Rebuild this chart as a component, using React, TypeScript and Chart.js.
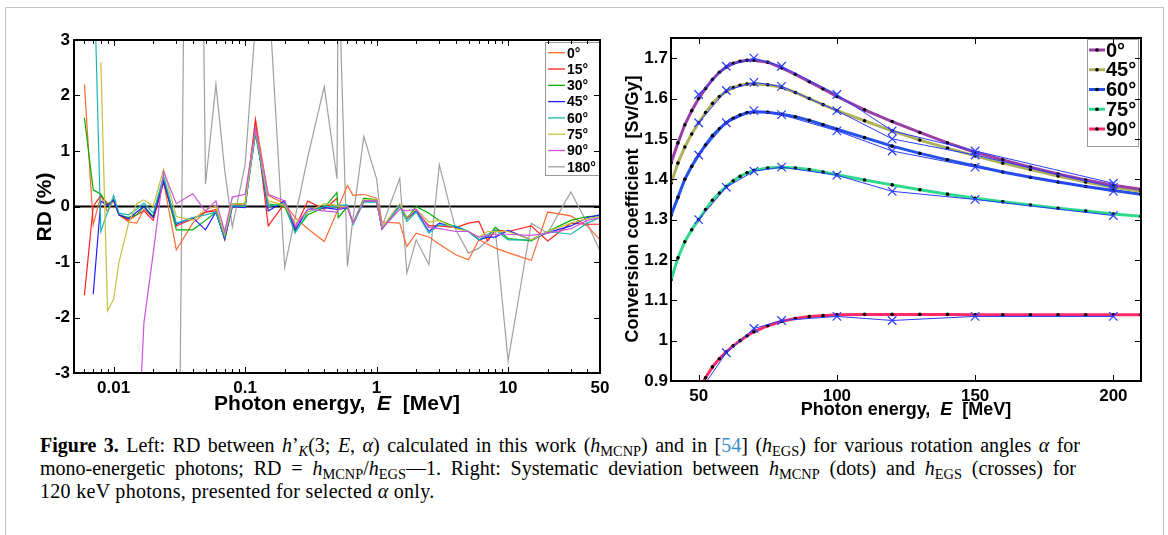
import React, { useEffect, useRef, useState } from "react";
import { Chart, registerables } from "chart.js";
Chart.register(...registerables);

const SANS = '"Liberation Sans", Arial, Helvetica, sans-serif';

// ---------------- Left chart: RD (%) vs photon energy ----------------
const rdEnergies = [
  0.006, 0.007, 0.008, 0.009, 0.01, 0.011, 0.013, 0.015, 0.017, 0.02,
  0.024, 0.03, 0.04, 0.05, 0.06, 0.07, 0.08, 0.1, 0.12, 0.15,
  0.2, 0.24, 0.3, 0.4, 0.5, 0.511, 0.6, 0.662, 0.8, 1,
  1.1, 1.5, 1.7, 2, 2.5, 3, 4, 5, 6, 7,
  8, 10, 15, 20, 30, 40, 50,
];
const rd0 = [
  2.2, -0.33, 0.2, -0.1, 0.12, -0.15, -0.28, -0.3, -0.05, -0.2,
  0.45, -0.78, -0.3, -0.1, -0.05, -0.58, 0.02, 0.05, 1.57, 0.2,
  0.05, -0.2, -0.4, -0.63, -0.1, -0.02, 0.38, 0.2, 0.22, 0.15,
  -0.28, -0.3, -0.72, -0.48, -0.55, -0.68, -0.87, -0.96, -0.6, -0.68,
  -0.75, -0.83, -0.97, -0.1, -0.17, -0.35, -0.6,
];
const rd15 = [
  -1.6, 0.0, 0.2, 0.05, 0.1, -0.15, -0.25, -0.15, -0.08, -0.25,
  0.43, -0.35, -0.22, -0.1, -0.08, -0.6, 0.02, 0.0, 1.55, -0.35,
  0.06, -0.38, 0.1, -0.05, 0.15, -0.05, 0.0, -0.3, 0.1, 0.1,
  -0.4, 0.02, -0.22, -0.08, -0.35, -0.35, -0.38, -0.3, -0.27, -0.62,
  -0.42, -0.45, -0.35, -0.62, -0.3, -0.32, -0.32,
];
const rd30 = [
  1.6, 0.3, 0.22, 0.02, 0.12, -0.15, -0.2, -0.15, 0.0, -0.18,
  0.5, -0.42, -0.42, -0.25, -0.1, -0.58, 0.05, 0.05, 1.3, 0.05,
  0.0, -0.45, -0.15, -0.02, 0.25, -0.2, 0.0, -0.3, 0.15, 0.12,
  -0.4, 0.02, -0.22, 0.0, -0.12, -0.25, -0.37, -0.45, -0.6, -0.55,
  -0.37, -0.58, -0.62, -0.45, -0.25, -0.18, -0.17,
];
const rd45 = [
  null, -1.58, 0.1, 0.02, 0.12, -0.15, -0.22, -0.1, 0.0, -0.2,
  0.45, -0.32, -0.2, -0.42, -0.1, -0.58, 0.0, -0.02, 1.4, -0.08,
  0.1, -0.42, -0.05, -0.02, -0.05, -0.05, -0.02, -0.3, 0.1, 0.1,
  -0.4, 0.02, -0.2, -0.08, -0.45, -0.3, -0.38, -0.45, -0.6, -0.55,
  -0.55, -0.43, -0.6, -0.47, -0.35, -0.2, -0.15,
];
const rd60 = [
  null, 4.8, -0.45, -0.1, 0.2, -0.12, -0.15, -0.05, 0.06, -0.12,
  0.55, -0.3, -0.2, -0.15, -0.1, -0.55, 0.02, 0.0, 1.35, 0.0,
  0.05, -0.48, -0.1, 0.0, 0.0, 0.02, 0.03, -0.33, 0.08, 0.08,
  -0.38, 0.0, -0.27, -0.1, -0.48, -0.33, -0.35, -0.45, -0.6, -0.5,
  -0.42, -0.6, -0.6, -0.45, -0.5, -0.3, -0.2,
];
const rd75 = [
  null, null, 2.6, -1.88, -1.67, -1.0, -0.3, 0.05, 0.12, 0.0,
  0.67, -0.18, -0.25, -0.05, 0.0, -0.5, 0.05, 0.05, 1.4, 0.1,
  0.02, -0.3, -0.1, 0.05, 0.02, 0.0, 0.0, -0.3, 0.12, 0.12,
  -0.38, 0.05, -0.2, -0.05, -0.28, -0.25, -0.4, -0.45, -0.55, -0.45,
  -0.45, -0.45, -0.6, -0.45, -0.3, -0.22, -0.18,
];
const rd90 = [
  null, null, null, null, null, null, null, -4.9, -2.1, -0.85,
  0.63, 0.05, 0.23, -0.09, 0.1, -0.45, 0.17, 0.22, 1.4, 0.22,
  0.1, -0.35, -0.05, -0.08, -0.1, -0.05, 0.0, -0.3, 0.1, 0.1,
  -0.4, -0.05, -0.08, -0.05, -0.38, -0.4, -0.45, -0.45, -0.55, -0.52,
  -0.5, -0.5, -0.52, -0.48, -0.4, -0.25, -0.2,
];
const rd180 = [
  null, null, null, null, null, null, null, null, null, null,
  null, -10, 20, 0.4, 2.2, 0.65, -0.37, 0.75, 3.3, 4.0,
  -1.1, -0.2, 0.9, 2.16, 0.5, 4.5, -1.08, -0.2, 1.26, 0.5,
  -0.36, 0.51, -1.2, -0.6, -1.05, 0.75, -0.42, -0.84, -0.75, -0.6,
  -0.42, -2.78, -0.3, -0.48, 0.26, -0.3, -0.8,
];
const rdNames = ["0°", "15°", "30°", "45°", "60°", "75°", "90°", "180°"];
const rdColors = ["#ff6a33", "#ff1f1f", "#00b000", "#1f1fff", "#1fb5b5", "#c6c03c", "#cc55dd", "#a0a0a0"];
const rdTickValues = [0.01, 0.1, 1, 10, 50];
const rdTickLabels = ["0.01", "0.1", "1", "10", "50"];
const rdMinorTicks = [
  0.006, 0.007, 0.008, 0.009,
  0.02, 0.03, 0.04, 0.05, 0.06, 0.07, 0.08, 0.09,
  0.2, 0.3, 0.4, 0.5, 0.6, 0.7, 0.8, 0.9,
  2, 3, 4, 5, 6, 7, 8, 9,
  20, 30, 40,
];
const rdYTicks = [-3, -2, -1, 0, 1, 2, 3];

// ---------------- Right chart: conversion coefficient ----------------
const ccEnergies = [
  40, 42.5, 45, 47.5, 50, 52.5, 55, 57.5, 60, 62.5, 65, 67.5, 70,
  75, 80, 85, 90, 95, 100,
  110, 120, 130, 140, 150, 160, 170, 180, 190, 200, 210,
];
const cc0 = [
  1.44, 1.49, 1.535, 1.57, 1.6, 1.625, 1.647, 1.665, 1.678, 1.687, 1.692, 1.695, 1.695,
  1.69, 1.676, 1.66, 1.642, 1.624, 1.605,
  1.572, 1.543, 1.516, 1.49, 1.467, 1.448, 1.43, 1.413, 1.398, 1.385, 1.375,
];
const cc45 = [
  1.39, 1.44, 1.48, 1.512, 1.54, 1.565, 1.588, 1.605, 1.618, 1.627, 1.633, 1.636, 1.636,
  1.634, 1.628, 1.615, 1.6, 1.585, 1.57,
  1.545, 1.52, 1.497, 1.477, 1.458, 1.44, 1.424, 1.408, 1.393, 1.38, 1.37,
];
const cc60 = [
  1.31, 1.355, 1.4, 1.432, 1.46, 1.485, 1.508, 1.525, 1.54, 1.551, 1.559, 1.565, 1.567,
  1.566, 1.561, 1.555, 1.546, 1.535, 1.524,
  1.503, 1.482, 1.464, 1.448, 1.433, 1.418, 1.405, 1.393, 1.382, 1.372, 1.363,
];
const cc75 = [
  1.15, 1.205, 1.245, 1.275, 1.3, 1.325, 1.348, 1.366, 1.382, 1.396, 1.407, 1.416, 1.422,
  1.428, 1.43, 1.428, 1.424, 1.418, 1.411,
  1.398, 1.386, 1.374, 1.363, 1.353, 1.344, 1.336, 1.328, 1.321, 1.314, 1.308,
];
const cc90 = [
  0.75, 0.79, 0.82, 0.85, 0.878, 0.908, 0.935, 0.955, 0.972, 0.987, 1.0, 1.012, 1.022,
  1.037, 1.048, 1.055, 1.06, 1.062, 1.064,
  1.065, 1.065, 1.065, 1.065, 1.064, 1.064, 1.064, 1.064, 1.064, 1.064, 1.064,
];
const egsEnergies = [50, 60, 70, 80, 100, 120, 150, 200];
const egs0 = [1.61, 1.68, 1.7, 1.68, 1.61, 1.52, 1.47, 1.39];
const egs45 = [1.54, 1.62, 1.64, 1.63, 1.57, 1.5, 1.46, 1.38];
const egs60 = [1.46, 1.54, 1.57, 1.56, 1.52, 1.47, 1.43, 1.37];
const egs75 = [1.3, 1.38, 1.42, 1.43, 1.41, 1.37, 1.35, 1.31];
const egs90 = [0.87, 0.97, 1.03, 1.05, 1.06, 1.05, 1.06, 1.06];
const ccNames = ["0°", "45°", "60°", "75°", "90°"];
const ccColors = ["#9b3fa6", "#aeb05c", "#2452e6", "#2fd98c", "#ff2a6a"];
const egsColor = "#2a3cff";
const ccXTicks = [50, 100, 150, 200];
const ccYTicks = [0.9, 1.0, 1.1, 1.2, 1.3, 1.4, 1.5, 1.6, 1.7];
const ccYLabels = ["0.9", "1", "1.1", "1.2", "1.3", "1.4", "1.5", "1.6", "1.7"];

type Seg = { t: string; italic?: boolean };
type LegendOpts = {
  x: number; y: number; w: number; h: number; first: number; step: number;
  l0: number; l1: number; tx: number; size: number; lw: number; dot: boolean;
  names: string[]; colors: string[];
};
type TitleOpts = { segs: Seg[]; x: number; y: number; rot: boolean; size: number };
type FrameGeom = { l: number; t: number; r: number; b: number; xt: number[]; xm: number[]; yt: number[] };

function measureFrame(chart: any, xTicks: number[], xMinor: number[], yTicks: number[]): FrameGeom {
  const a = chart.chartArea;
  return {
    l: a.left,
    t: a.top,
    r: a.right,
    b: a.bottom,
    xt: xTicks.map((v) => chart.scales.x.getPixelForValue(v)),
    xm: xMinor.map((v) => chart.scales.x.getPixelForValue(v)),
    yt: yTicks.map((v) => chart.scales.y.getPixelForValue(v)),
  };
}

function FrameOverlay({ g }: { g: FrameGeom | null }) {
  if (!g) return null;
  const items: React.ReactNode[] = [];
  const tick = (key: string, x: number, y: number, w: number, h: number) =>
    items.push(
      <div key={key} style={{ position: "absolute", left: x, top: y, width: w, height: h, background: "#000" }} />
    );
  g.xt.forEach((px, i) => {
    tick("xb" + i, Math.round(px) - 0.5, g.b - 6, 1, 6);
    tick("xt" + i, Math.round(px) - 0.5, g.t, 1, 6);
  });
  g.xm.forEach((px, i) => {
    tick("mb" + i, Math.round(px) - 0.5, g.b - 4, 1, 4);
    tick("mt" + i, Math.round(px) - 0.5, g.t, 1, 4);
  });
  g.yt.forEach((py, i) => {
    tick("yl" + i, g.l, Math.round(py) - 0.5, 6, 1);
    tick("yr" + i, g.r - 6, Math.round(py) - 0.5, 6, 1);
  });
  return (
    <div style={{ position: "absolute", left: 0, top: 0, width: "100%", height: "100%", pointerEvents: "none" }}>
      <div
        style={{
          position: "absolute",
          left: g.l - 1,
          top: g.t - 1,
          width: g.r - g.l + 2,
          height: g.b - g.t + 2,
          border: "2px solid #000",
          boxSizing: "border-box",
        }}
      />
      {items}
    </div>
  );
}

function drawLegend(chart: any, o: LegendOpts) {
  const ctx = chart.ctx;
  ctx.save();
  ctx.fillStyle = "#ffffff";
  ctx.fillRect(o.x, o.y, o.w, o.h);
  ctx.strokeStyle = "#9a9a9a";
  ctx.lineWidth = 1;
  ctx.strokeRect(o.x + 0.5, o.y + 0.5, o.w, o.h);
  ctx.font = `bold ${o.size}px ${SANS}`;
  ctx.textBaseline = "middle";
  ctx.textAlign = "left";
  o.names.forEach((n, i) => {
    const yy = o.first + i * o.step;
    ctx.strokeStyle = o.colors[i];
    ctx.lineWidth = o.lw;
    ctx.beginPath();
    ctx.moveTo(o.l0, yy);
    ctx.lineTo(o.l1, yy);
    ctx.stroke();
    if (o.dot) {
      ctx.fillStyle = "#000000";
      ctx.beginPath();
      ctx.arc((o.l0 + o.l1) / 2, yy, 1.8, 0, Math.PI * 2);
      ctx.fill();
    }
    ctx.fillStyle = "#000000";
    ctx.fillText(n, o.tx, yy + 1);
  });
  ctx.restore();
}

function drawTitles(chart: any, list: TitleOpts[]) {
  const ctx = chart.ctx;
  list.forEach((o) => {
    ctx.save();
    ctx.translate(o.x, o.y);
    if (o.rot) ctx.rotate(-Math.PI / 2);
    const fonts = o.segs.map((s) => `${s.italic ? "italic " : ""}bold ${o.size}px ${SANS}`);
    let total = 0;
    const widths = o.segs.map((s, i) => {
      ctx.font = fonts[i];
      const w = ctx.measureText(s.t).width;
      total += w;
      return w;
    });
    let cx = -total / 2;
    ctx.textBaseline = "middle";
    ctx.textAlign = "left";
    ctx.fillStyle = "#000000";
    o.segs.forEach((s, i) => {
      ctx.font = fonts[i];
      ctx.fillText(s.t, cx, 0);
      cx += widths[i];
    });
    ctx.restore();
  });
}

function zeroLinePlugin() {
  return {
    id: "zeroLine",
    beforeDatasetsDraw(chart: any) {
      const ctx = chart.ctx;
      const a = chart.chartArea;
      const py = chart.scales.y.getPixelForValue(0);
      ctx.save();
      ctx.strokeStyle = "#000000";
      ctx.lineWidth = 2;
      ctx.beginPath();
      ctx.moveTo(a.left, py);
      ctx.lineTo(a.right, py);
      ctx.stroke();
      ctx.restore();
    },
  };
}

function decorPlugin(id: string, legend: LegendOpts, titles: TitleOpts[]) {
  return {
    id,
    afterDraw(chart: any) {
      drawLegend(chart, legend);
      drawTitles(chart, titles);
    },
  };
}

const tickFont = { family: SANS, size: 17, weight: "bold" as const };

function LeftChart() {
  const ref = useRef<HTMLCanvasElement>(null);
  const [geom, setGeom] = useState<FrameGeom | null>(null);
  useEffect(() => {
    const series = [rd0, rd15, rd30, rd45, rd60, rd75, rd90, rd180];
    const chart = new Chart(ref.current as HTMLCanvasElement, {
      type: "line",
      data: {
        datasets: series.map((vals, i) => ({
          label: rdNames[i],
          data: rdEnergies.map((e, j) => ({ x: e, y: vals[j] })),
          borderColor: rdColors[i],
          backgroundColor: rdColors[i],
          borderWidth: 1.2,
          pointRadius: 0,
          tension: 0,
          fill: false,
          order: i === 7 ? 10 : 7 - i,
        })),
      },
      options: {
        responsive: false,
        animation: false,
        events: [],
        layout: { padding: { left: 0, top: 40, right: 15, bottom: 0 }, autoPadding: false },
        plugins: { legend: { display: false }, tooltip: { enabled: false } },
        scales: {
          x: {
            type: "logarithmic",
            min: 0.005,
            max: 50,
            grid: { display: false, drawTicks: false },
            border: { display: false },
            afterBuildTicks: (s: any) => {
              s.ticks = rdTickValues.map((v) => ({ value: v }));
            },
            afterFit: (s: any) => {
              s.height = 52;
            },
            ticks: {
              autoSkip: false,
              maxRotation: 0,
              padding: 5,
              color: "#000",
              font: tickFont,
              callback: (v: any) => {
                const k = rdTickValues.indexOf(Number(v));
                return k >= 0 ? rdTickLabels[k] : "";
              },
            },
          },
          y: {
            type: "linear",
            min: -3,
            max: 3,
            grid: { display: false, drawTicks: false },
            border: { display: false },
            afterBuildTicks: (s: any) => {
              s.ticks = rdYTicks.map((v) => ({ value: v }));
            },
            afterFit: (s: any) => {
              s.width = 74;
            },
            ticks: { padding: 4, color: "#000", font: tickFont, callback: (v: any) => String(v) },
          },
        },
      } as any,
      plugins: [
        zeroLinePlugin(),
        decorPlugin(
          "decorLeft",
          {
            x: 545, y: 42, w: 54, h: 133, first: 52.7, step: 16.3,
            l0: 548, l1: 565, tx: 567, size: 14, lw: 1.3, dot: false,
            names: rdNames, colors: rdColors,
          },
          [
            { segs: [{ t: "Photon energy,  " }, { t: "E", italic: true }, { t: "  [MeV]" }], x: 337, y: 404, rot: false, size: 21 },
            { segs: [{ t: "RD (%)" }], x: 45, y: 207, rot: true, size: 21 },
          ]
        ),
      ],
    });
    setGeom(measureFrame(chart, rdTickValues, rdMinorTicks, rdYTicks));
    return () => chart.destroy();
  }, []);
  return (
    <div style={{ position: "relative", width: 615, height: 425 }}>
      <canvas ref={ref} width={615} height={425} style={{ display: "block", position: "absolute", left: 0, top: 0 }} />
      <FrameOverlay g={geom} />
    </div>
  );
}

function RightChart() {
  const ref = useRef<HTMLCanvasElement>(null);
  const [geom, setGeom] = useState<FrameGeom | null>(null);
  useEffect(() => {
    const mcnp = [cc0, cc45, cc60, cc75, cc90];
    const egs = [egs0, egs45, egs60, egs75, egs90];
    const datasets: any[] = [];
    egs.forEach((vals, i) => {
      datasets.push({
        label: "EGS " + ccNames[i],
        data: egsEnergies.map((e, j) => ({ x: e, y: vals[j] })),
        borderColor: egsColor,
        borderWidth: 1,
        pointStyle: "crossRot",
        pointRadius: 6,
        pointBorderColor: egsColor,
        pointBorderWidth: 1.2,
        tension: 0,
        fill: false,
        order: 0,
      });
    });
    mcnp.forEach((vals, i) => {
      datasets.push({
        label: ccNames[i],
        data: ccEnergies.map((e, j) => ({ x: e, y: vals[j] })),
        borderColor: ccColors[i],
        borderWidth: 3,
        pointRadius: 1.8,
        pointBackgroundColor: "#000",
        pointBorderColor: "#000",
        pointBorderWidth: 0,
        tension: 0,
        fill: false,
        order: 5,
      });
    });
    const chart = new Chart(ref.current as HTMLCanvasElement, {
      type: "line",
      data: { datasets },
      options: {
        responsive: false,
        animation: false,
        events: [],
        layout: { padding: { left: 0, top: 38, right: 27, bottom: 0 }, autoPadding: false },
        plugins: { legend: { display: false }, tooltip: { enabled: false } },
        scales: {
          x: {
            type: "linear",
            min: 40,
            max: 210,
            grid: { display: false, drawTicks: false },
            border: { display: false },
            afterBuildTicks: (s: any) => {
              s.ticks = ccXTicks.map((v) => ({ value: v }));
            },
            afterFit: (s: any) => {
              s.height = 44;
            },
            ticks: { autoSkip: false, maxRotation: 0, padding: 5, color: "#000", font: tickFont, callback: (v: any) => String(v) },
          },
          y: {
            type: "linear",
            min: 0.9,
            max: 1.75,
            grid: { display: false, drawTicks: false },
            border: { display: false },
            afterBuildTicks: (s: any) => {
              s.ticks = ccYTicks.map((v) => ({ value: v }));
            },
            afterFit: (s: any) => {
              s.width = 66;
            },
            ticks: {
              padding: 3,
              color: "#000",
              font: tickFont,
              callback: (v: any, idx: number) => ccYLabels[idx] ?? String(v),
            },
          },
        },
      } as any,
      plugins: [
        decorPlugin(
          "decorRight",
          {
            x: 482, y: 39, w: 51, h: 107, first: 50, step: 19.75,
            l0: 484, l1: 500, tx: 501, size: 20, lw: 3, dot: true,
            names: ccNames, colors: ccColors,
          },
          [
            { segs: [{ t: "Photon energy,  " }, { t: "E", italic: true }, { t: "  [MeV]" }], x: 301, y: 410, rot: false, size: 18 },
            { segs: [{ t: "Conversion coefficient  [Sv/Gy]" }], x: 28, y: 209, rot: true, size: 18 },
          ]
        ),
      ],
    });
    setGeom(measureFrame(chart, ccXTicks, [], ccYTicks));
    return () => chart.destroy();
  }, []);
  return (
    <div style={{ position: "relative", width: 563, height: 425 }}>
      <canvas ref={ref} width={563} height={425} style={{ display: "block", position: "absolute", left: 0, top: 0 }} />
      <FrameOverlay g={geom} />
    </div>
  );
}

const subStyle: React.CSSProperties = { fontSize: "0.72em", verticalAlign: "-0.3em", lineHeight: 0 };

export default function App() {
  return (
    <div style={{ position: "absolute", left: 0, top: 0, width: 1168, height: 535, overflow: "hidden", background: "#fff" }}>
      <div style={{ position: "absolute", left: 5, top: 7, width: 1157, height: 600, border: "1px solid #c4c4c4" }} />
      <div style={{ position: "absolute", left: 0, top: 0 }}>
        <LeftChart />
      </div>
      <div style={{ position: "absolute", left: 605, top: 0 }}>
        <RightChart />
      </div>
      <div
        style={{
          position: "absolute",
          left: 40,
          top: 434,
          fontFamily: '"Liberation Serif", "Times New Roman", serif',
          fontSize: 20,
          lineHeight: "23px",
          color: "#000",
        }}
      >
        <div style={{ width: 1040, textAlign: "justify", textAlignLast: "justify" }}>
          <b>Figure 3.</b> Left: RD between <i>h</i>’<sub style={subStyle}><i>K</i></sub>(3; <i>E</i>, <i>α</i>) calculated in this work (<i>h</i>
          <sub style={subStyle}>MCNP</sub>) and in [<span style={{ color: "#3a8fc8" }}>54</span>] (<i>h</i>
          <sub style={subStyle}>EGS</sub>) for various rotation angles <i>α</i> for
        </div>
        <div style={{ width: 1036, textAlign: "justify", textAlignLast: "justify" }}>
          mono-energetic photons; RD = <i>h</i><sub style={subStyle}>MCNP</sub>/<i>h</i><sub style={subStyle}>EGS</sub>—1. Right: Systematic deviation between <i>h</i>
          <sub style={subStyle}>MCNP</sub> (dots) and <i>h</i><sub style={subStyle}>EGS</sub> (crosses) for
        </div>
        <div style={{ whiteSpace: "nowrap", letterSpacing: "0.3px" }}>
          120 keV photons, presented for selected <i>α</i> only.
        </div>
      </div>
    </div>
  );
}
